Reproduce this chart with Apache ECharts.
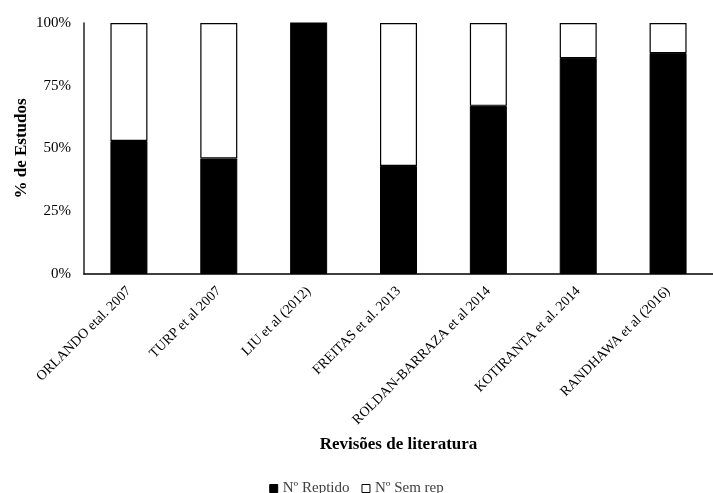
<!DOCTYPE html>
<html>
<head>
<meta charset="utf-8">
<script src="https://cdn.jsdelivr.net/npm/echarts@6/dist/echarts.min.js"></script>
<style>
html,body{margin:0;padding:0;background:#fff;}
#chart{width:713px;height:493px;}
</style>
</head>
<body>
<div id="chart"></div>
<script>
const categories = ['ORLANDO etal. 2007','TURP et al 2007','LIU et al (2012)','FREITAS et al. 2013','ROLDAN-BARRAZA et al 2014','KOTIRANTA et al. 2014','RANDHAWA et al (2016)'];
const reptido = [53, 46, 100, 43, 67, 86, 88];
const semRep = [47, 54, 0, 57, 33, 14, 12];
const yTicks = [0, 25, 50, 75, 100];

const FONT = 'Liberation Serif';
const chart = echarts.init(document.getElementById('chart'));
chart.setOption({
  animation: false,
  backgroundColor: '#fff',
  textStyle: { fontFamily: FONT, color: '#000' },
  grid: { left: 84, top: 23, bottom: 219, right: -10 },
  legend: {
    top: 476,
    left: 'center',
    itemWidth: 8,
    itemHeight: 8,
    itemGap: 12,
    icon: 'rect',
    textStyle: { fontFamily: FONT, fontSize: 15, color: '#404040' },
    data: [
      { name: 'Nº Reptido', itemStyle: { color: '#000', borderColor: '#000', borderWidth: 1 } },
      { name: 'Nº Sem rep', itemStyle: { color: '#fff', borderColor: '#000', borderWidth: 1 } }
    ]
  },
  xAxis: {
    type: 'category',
    data: categories,
    name: 'Revisões de literatura',
    nameLocation: 'middle',
    nameGap: 162,
    nameTextStyle: { fontFamily: FONT, fontSize: 17, fontWeight: 'bold', color: '#000' },
    axisLine: { lineStyle: { color: '#000', width: 1.5 } },
    axisTick: { show: false },
    axisLabel: { rotate: 45, interval: 0, fontFamily: FONT, fontSize: 14, color: '#000', margin: 15 }
  },
  yAxis: {
    type: 'value',
    min: 0, max: 100, interval: 25,
    name: '% de Estudos',
    nameLocation: 'middle',
    nameGap: 54,
    nameMoveOverlap: false,
    nameTextStyle: { fontFamily: FONT, fontSize: 17, fontWeight: 'bold', color: '#000' },
    axisLine: { show: true, lineStyle: { color: '#222', width: 1.5 } },
    axisTick: { show: false },
    splitLine: { show: false },
    axisLabel: { fontFamily: FONT, fontSize: 15, color: '#000', margin: 13,
      formatter: v => yTicks.includes(v) ? v + '%' : '' }
  },
  series: [
    { name: 'Nº Reptido', type: 'bar', stack: 's', data: reptido, barWidth: 37,
      itemStyle: { color: '#000', borderColor: '#000', borderWidth: 1 } },
    { name: 'Nº Sem rep', type: 'bar', stack: 's', data: semRep, barWidth: 37,
      itemStyle: { color: '#fff', borderColor: '#000', borderWidth: 1.2 } }
  ]
});
</script>
</body>
</html>
